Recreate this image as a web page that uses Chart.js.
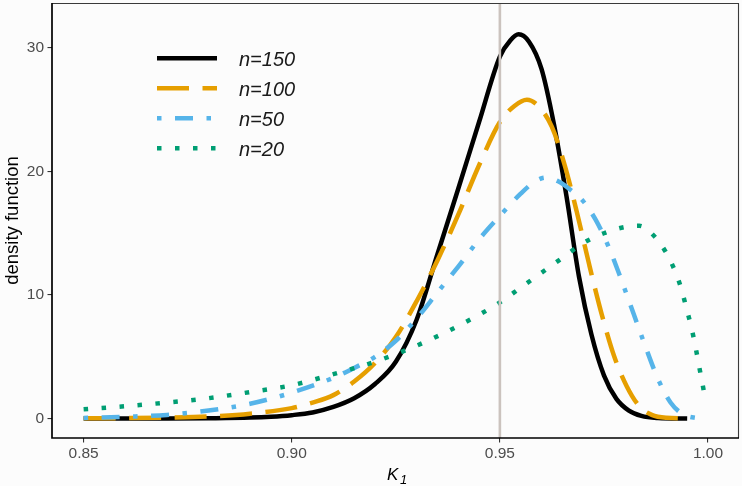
<!DOCTYPE html>
<html><head><meta charset="utf-8">
<script src="https://cdn.jsdelivr.net/npm/chart.js@4/dist/chart.umd.min.js"></script>
<style>html,body{margin:0;padding:0;background:#fcfcfc}#wrap{width:742px;height:486px;position:relative}</style>
</head><body><div id="wrap"><canvas id="c" width="742" height="486"></canvas></div>
<script>
const seriesLabels = ['n=150', 'n=100', 'n=50', 'n=20'];
const k150 = [0.85,0.87,0.88,0.89,0.895,0.90,0.905,0.91,0.915,0.92,0.925,0.93,0.935,0.94,0.945,0.95,0.9525,0.9545,0.957,0.960,0.963,0.966,0.969,0.972,0.975,0.978,0.981,0.984,0.988,0.995];
const d150 = [0,0.01,0.03,0.08,0.15,0.28,0.5,0.95,1.65,2.8,4.6,8.0,13.3,18.6,24.0,29.3,30.6,31.1,30.5,28.3,23.8,18.0,11.5,6.8,3.5,1.6,0.65,0.22,0.05,0];
const k100 = [0.85,0.86,0.87,0.88,0.89,0.90,0.905,0.91,0.915,0.92,0.925,0.93,0.935,0.94,0.945,0.95,0.9535,0.9565,0.9595,0.9625,0.9655,0.9685,0.9715,0.9745,0.9775,0.9805,0.9835,0.9865,0.99,0.995];
const d100 = [0.02,0.04,0.08,0.17,0.4,0.85,1.3,1.9,3.0,4.5,6.6,9.5,12.8,16.5,20.5,24.0,25.3,25.8,25.2,23.6,20.6,16.7,12.4,8.4,5.0,2.6,1.0,0.3,0.06,0.01];
const k50 = [0.85,0.86,0.87,0.88,0.89,0.90,0.91,0.915,0.92,0.925,0.93,0.935,0.94,0.945,0.95,0.955,0.9585,0.961,0.964,0.967,0.970,0.973,0.976,0.979,0.982,0.985,0.988,0.991,0.994,0.997,0.999];
const d50 = [0.05,0.15,0.3,0.65,1.2,2.1,3.3,4.1,5.0,6.3,8.1,10.2,12.3,14.5,16.4,18.2,19.2,19.5,19.2,18.5,17.6,16.1,14.0,11.4,8.6,5.8,3.2,1.3,0.35,0.06,0.02];
const k20 = [0.85,0.86,0.87,0.88,0.89,0.90,0.91,0.92,0.93,0.94,0.95,0.955,0.96,0.965,0.97,0.975,0.98,0.9835,0.987,0.99,0.992,0.9935,0.995,0.996,0.997,0.998,0.999,0.9993];
const d20 = [0.76,1.0,1.3,1.65,2.15,2.7,3.6,4.6,5.9,7.5,9.4,10.6,11.8,13.0,14.2,15.0,15.5,15.6,14.8,13.4,12.0,10.6,8.7,7.4,5.8,4.0,2.2,1.5];
const xTicks = [0.85, 0.90, 0.95, 1.00];
const yTicks = [0, 10, 20, 30];
const refLineX = 0.95;

const colors = ['#000000', '#E69F00', '#56B4E9', '#009E73'];
const dashes = [[], [32, 13.5], [4.5, 13.5, 18, 13.5], [4.5, 13.5]];
const kArr = [k150, k100, k50, k20];
const dArr = [d150, d100, d50, d20];
const LW = 4.5;

const datasets = seriesLabels.map((lab, i) => ({
  label: lab,
  data: kArr[i].map((x, j) => ({x: x, y: dArr[i][j]})),
  borderColor: colors[i],
  borderWidth: LW,
  borderDash: dashes[i],
  borderCapStyle: 'butt',
  borderJoinStyle: 'round',
  pointRadius: 0,
  fill: false,
  cubicInterpolationMode: 'monotone',
  order: 4 - i
}));

const decor = {
  id: 'decor',
  beforeDraw(chart) {
    const c = chart.ctx;
    c.save();
    c.fillStyle = '#fcfcfc';
    c.fillRect(0, 0, chart.width, chart.height);
    c.restore();
  },
  afterDatasetsDraw(chart) {
    const c = chart.ctx, a = chart.chartArea;
    const xs = chart.scales.x;
    c.save();
    const px = xs.getPixelForValue(refLineX);
    c.strokeStyle = '#cbc3be';
    c.lineWidth = 2.6;
    c.beginPath(); c.moveTo(px, a.top); c.lineTo(px, a.bottom); c.stroke();
    c.strokeStyle = '#3a3a3a';
    c.lineWidth = 1.1;
    c.beginPath(); c.moveTo(a.left, a.top + 0.5); c.lineTo(a.right - 0.5, a.top + 0.5); c.lineTo(a.right - 0.5, a.bottom); c.stroke();
    c.strokeStyle = '#000';
    c.lineWidth = 1.7;
    c.beginPath(); c.moveTo(a.left, a.top); c.lineTo(a.left, a.bottom); c.lineTo(a.right, a.bottom); c.stroke();
    chart.data.datasets.forEach((ds, i) => {
      const y = 58.3 + 30 * i;
      c.strokeStyle = ds.borderColor;
      c.lineWidth = LW;
      c.lineCap = 'butt';
      c.setLineDash(ds.borderDash);
      c.beginPath(); c.moveTo(157, y); c.lineTo(217, y); c.stroke();
      c.setLineDash([]);
      c.fillStyle = '#1a1a1a';
      c.font = 'italic 20px "Liberation Sans", Arial, sans-serif';
      c.textAlign = 'left';
      c.textBaseline = 'middle';
      c.fillText(ds.label, 239, y + 1.7);
    });
    c.fillStyle = '#000';
    c.font = '18.5px "Liberation Sans", Arial, sans-serif';
    c.textAlign = 'center';
    c.textBaseline = 'alphabetic';
    c.save();
    c.translate(17.5, (a.top + a.bottom) / 2);
    c.rotate(-Math.PI / 2);
    c.fillText('density function', 0, 0);
    c.restore();
    c.textAlign = 'left';
    c.font = 'italic 17px "Liberation Sans", Arial, sans-serif';
    c.fillText('K', 387, 480);
    c.font = 'italic 13px "Liberation Sans", Arial, sans-serif';
    c.fillText('1', 400, 483.5);
    c.restore();
  }
};

new Chart(document.getElementById('c'), {
  type: 'line',
  data: { datasets: datasets },
  options: {
    responsive: false,
    devicePixelRatio: 1,
    animation: false,
    events: [],
    layout: { padding: { top: 3, right: 3, left: 0, bottom: 0 } },
    plugins: { legend: { display: false }, tooltip: { enabled: false }, title: { display: false } },
    scales: {
      x: {
        type: 'linear',
        min: 0.8424, max: 1.00745,
        afterBuildTicks: s => { s.ticks = xTicks.map(v => ({value: v})); },
        afterFit: s => { s.height = 48; s.paddingLeft = 0; s.paddingRight = 0; },
        ticks: { callback: v => Number(v).toFixed(2), color: '#4d4d4d', font: { size: 15.5, family: '"Liberation Sans", Arial, sans-serif' }, padding: 2, maxRotation: 0, autoSkip: false },
        grid: { drawOnChartArea: false, drawTicks: true, tickLength: 4.5, color: '#333', lineWidth: 1.1 },
        border: { display: false }
      },
      y: {
        type: 'linear',
        min: -1.57, max: 33.63,
        afterBuildTicks: s => { s.ticks = yTicks.map(v => ({value: v})); },
        afterFit: s => { s.width = 52; s.paddingTop = 0; s.paddingBottom = 0; },
        ticks: { callback: v => String(v), color: '#4d4d4d', font: { size: 15.5, family: '"Liberation Sans", Arial, sans-serif' }, padding: 3.5, autoSkip: false },
        grid: { drawOnChartArea: false, drawTicks: true, tickLength: 4.5, color: '#333', lineWidth: 1.1 },
        border: { display: false }
      }
    }
  },
  plugins: [decor]
});
</script>
</body></html>
